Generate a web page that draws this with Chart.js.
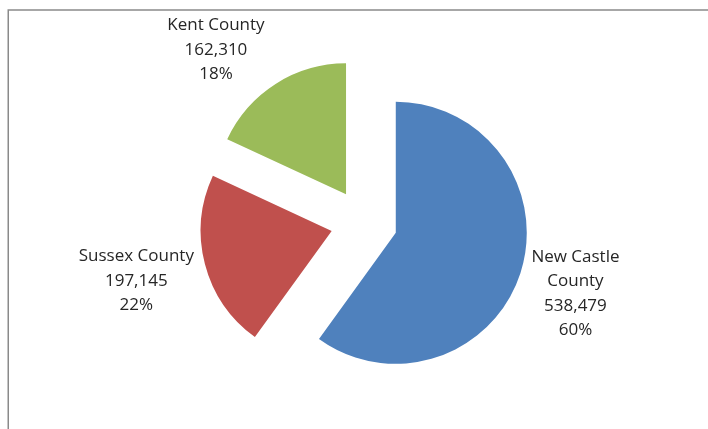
<!DOCTYPE html>
<html>
<head>
<meta charset="utf-8">
<script src="https://cdn.jsdelivr.net/npm/chart.js@4"></script>
<style>
  html, body { margin: 0; padding: 0; background: #ffffff; }
  #wrap { position: relative; width: 708px; height: 429px; }
</style>
</head>
<body>
<div id="wrap"><canvas id="c" width="708" height="429"></canvas></div>
<script>
// Delaware population by county
const counties = ['New Castle County', 'Sussex County', 'Kent County'];
const populations = [538479, 197145, 162310];
const sliceColors = ['#4F81BD', '#C0504D', '#9BBB59'];

const LABEL_FONT = '17px "Open Sans", sans-serif';
const LABEL_COLOR = '#262626';
const LINE_H = 24.5;
const CAP_H = 12;
const WRAP_WIDTH = 130;
const LABEL_GAP = 11;
const LABEL_LIFT = 35;

// Thin gray frame along the top and left edges
const framePlugin = {
  id: 'frame',
  beforeDraw(chart) {
    const ctx = chart.ctx;
    ctx.save();
    ctx.strokeStyle = '#8a8a8a';
    ctx.lineWidth = 1.5;
    ctx.beginPath();
    ctx.moveTo(8.25, chart.height);
    ctx.lineTo(8.25, 10);
    ctx.lineTo(chart.width, 10);
    ctx.stroke();
    ctx.restore();
  }
};

// Pull every slice out of the centre along its own bisector
const explodePlugin = {
  id: 'explode',
  afterDatasetUpdate(chart, args, opts) {
    const d = opts.distance || 0;
    args.meta.data.forEach(arc => {
      const mid = (arc.startAngle + arc.endAngle) / 2;
      arc.x += Math.cos(mid) * d;
      arc.y += Math.sin(mid) * d;
    });
  }
};

function wrapWords(ctx, text, maxW) {
  const words = text.split(' ');
  const out = [];
  let cur = '';
  words.forEach(w => {
    const test = cur ? cur + ' ' + w : w;
    if (cur && ctx.measureText(test).width > maxW) {
      out.push(cur);
      cur = w;
    } else {
      cur = test;
    }
  });
  if (cur) out.push(cur);
  return out;
}

// Category / value / percentage labels outside each slice
const sliceLabelPlugin = {
  id: 'sliceLabels',
  afterDatasetsDraw(chart) {
    const ctx = chart.ctx;
    const meta = chart.getDatasetMeta(0);
    const values = chart.data.datasets[0].data;
    const total = values.reduce((a, b) => a + b, 0);
    ctx.save();
    ctx.font = LABEL_FONT;
    ctx.fillStyle = LABEL_COLOR;
    ctx.textAlign = 'center';
    ctx.textBaseline = 'alphabetic';
    meta.data.forEach((arc, i) => {
      const mid = (arc.startAngle + arc.endAngle) / 2;
      const dx = Math.cos(mid), dy = Math.sin(mid);
      const px = arc.x + dx * arc.outerRadius;
      const py = arc.y + dy * arc.outerRadius;
      const lines = wrapWords(ctx, chart.data.labels[i], WRAP_WIDTH);
      lines.push(values[i].toLocaleString('en-US'));
      lines.push(Math.round(values[i] / total * 100) + '%');
      const w = Math.max(...lines.map(l => ctx.measureText(l).width));
      const halfW = w / 2;
      const halfH = ((lines.length - 1) * LINE_H + CAP_H) / 2;
      const cx = px + Math.sign(dx) * (halfW + LABEL_GAP);
      const cy = py + Math.max(-1, Math.min(1, 1.8 * dy)) * LABEL_LIFT;
      lines.forEach((l, k) => {
        ctx.fillText(l, cx, cy - halfH + CAP_H + k * LINE_H);
      });
    });
    ctx.restore();
  }
};

new Chart(document.getElementById('c'), {
  type: 'pie',
  data: {
    labels: counties,
    datasets: [{
      data: populations,
      backgroundColor: sliceColors,
      borderWidth: 0
    }]
  },
  options: {
    responsive: false,
    animation: false,
    radius: 131,
    layout: { padding: { left: 20, right: 0, top: 16, bottom: 0 } },
    plugins: {
      legend: { display: false },
      tooltip: { enabled: false },
      explode: { distance: 33.4 }
    }
  },
  plugins: [framePlugin, explodePlugin, sliceLabelPlugin]
});
</script>
</body>
</html>
